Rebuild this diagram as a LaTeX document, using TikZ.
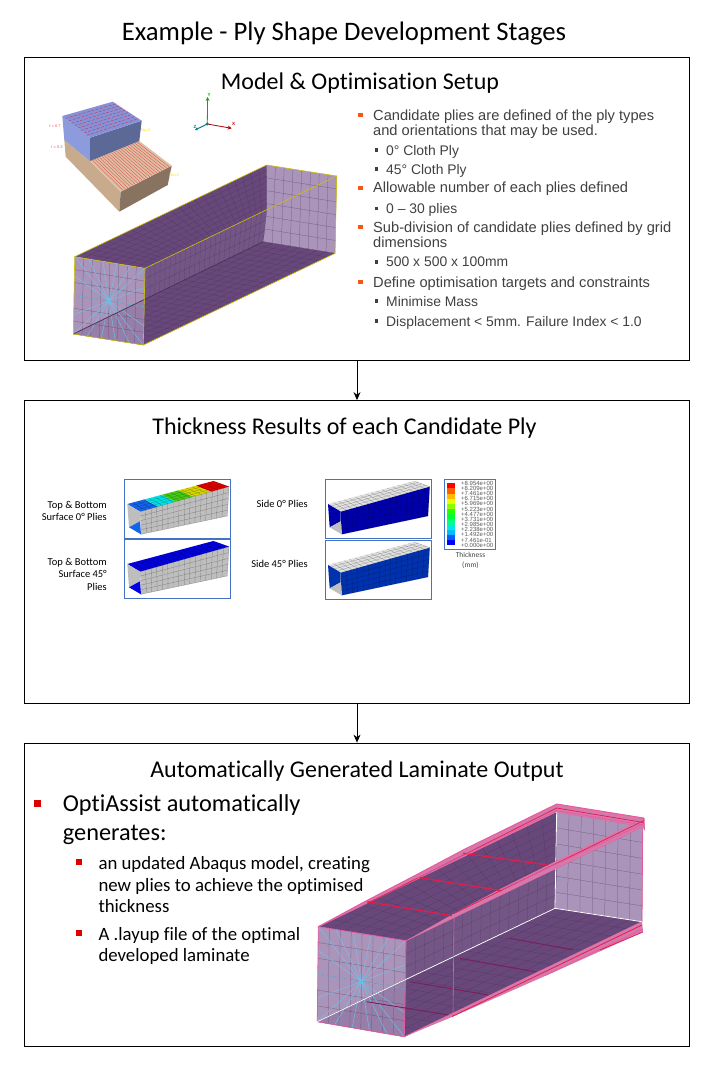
\documentclass[tikz,border=0pt]{standalone}
\usepackage{xcolor}
\usepackage{fontspec}
\setmainfont{Carlito}[Ligatures=NoCommon]
\setsansfont{Liberation Sans}
\usetikzlibrary{arrows.meta,calc,positioning}

\definecolor{ductDark}{RGB}{104,72,122}
\definecolor{ductLight}{RGB}{170,148,186}
\definecolor{ductMid}{RGB}{116,86,134}
\definecolor{ductFloor}{RGB}{150,126,168}
\definecolor{gridDark}{RGB}{70,50,85}
\definecolor{plyPink}{RGB}{232,90,160}
\definecolor{plyRed}{RGB}{225,30,75}
\definecolor{plyMaroon}{RGB}{125,30,90}
\definecolor{plyStrip}{RGB}{214,120,170}
\definecolor{frameBlue}{RGB}{68,114,196}
\definecolor{tanTop}{RGB}{222,190,165}
\definecolor{tanSide}{RGB}{200,170,140}
\definecolor{tanDark}{RGB}{135,115,95}
\definecolor{blockTop}{RGB}{135,145,215}
\definecolor{blockSide}{RGB}{140,155,220}
\definecolor{blockDark}{RGB}{92,105,150}
\definecolor{resBlue}{RGB}{20,100,235}
\definecolor{resCyan}{RGB}{0,225,230}
\definecolor{resGreen}{RGB}{70,205,20}
\definecolor{resYellow}{RGB}{215,215,0}
\definecolor{resRed}{RGB}{225,0,0}
\definecolor{resNavy}{RGB}{0,0,225}
\definecolor{resDeep}{RGB}{0,0,170}
\definecolor{resMid}{RGB}{0,50,175}
\definecolor{resGray}{RGB}{190,190,190}
\definecolor{resPale}{RGB}{225,225,225}
\newcommand{\fsz}[1]{\fontsize{#1}{#1}\selectfont}

% grid lines on a quad a-b-c-d, n across a-b and m across b-c
\newcommand{\meshface}[7]{%
  \foreach \k in {1,...,#6}
    \draw[#1] ($(#2)!{\k/#6}!(#3)$) -- ($(#5)!{\k/#6}!(#4)$);
  \foreach \k in {1,...,#7}
    \draw[#1] ($(#2)!{\k/#7}!(#5)$) -- ($(#3)!{\k/#7}!(#4)$);
}
% see-through duct from the coordinates f1..f4, b1..b4, ptop, qlow
\newcommand{\ductbody}[3]{%
  \fill[ductLight] (b1) -- (b2) -- (b3) -- (b4) -- cycle;
  \meshface{gridLine}{b1}{b2}{b3}{b4}{#2}{6}
  \fill[ductDark] (f1) -- (f2) -- (ptop) -- (b1) -- cycle;
  \meshface{gridLine}{f1}{f2}{ptop}{b1}{#2}{#3}
  \fill[ductMid] (f2) -- (ptop) -- (b4) -- (qlow) -- cycle;
  \meshface{gridLine}{f2}{ptop}{b4}{qlow}{#3}{3}
  \fill[ductDark] (f4) -- (f3) -- (b3) -- (b4) -- cycle;
  \meshface{gridLine}{f4}{f3}{b3}{b4}{#2}{#3}
  \fill[ductLight] (f1) -- (f2) -- (qlow) -- (f4) -- cycle;
  \fill[ductFloor] (f4) -- (qlow) -- (f3) -- cycle;
  \meshface{gridLine}{f1}{f2}{f3}{f4}{8}{6}
  \coordinate (fmid) at ($(f1)!.5!(f3)$);
  \foreach \k in {0,...,5} {
    \draw[spoke] (fmid) -- ($(f1)!{\k/5}!(f2)$);
    \draw[spoke] (fmid) -- ($(f4)!{\k/5}!(f3)$);
  }
  \foreach \k in {1,...,3} {
    \draw[spoke] (fmid) -- ($(f1)!{\k/4}!(f4)$);
    \draw[spoke] (fmid) -- ($(f2)!{\k/4}!(f3)$);
  }
  \fill[cyan!70!white] (fmid) circle (1.3);
  \draw[gridDark, line width=0.7pt] (f4) -- (b4);
  \draw[#1] (f1) -- (f2) -- (f3) -- (f4) -- cycle;
  \draw[#1] (f1) -- (b1) -- (b2) -- (b3) -- (f3);
  \draw[#1] (f2) -- (b2);
}
% mini result beam: frame corner, top colours, count, wall, floor
\newcommand{\minibeam}[6]{%
  \begin{scope}[shift={(#1,#2)}]
    \coordinate (m1) at (3,24.7);   \coordinate (m2) at (15.7,32.3);
    \coordinate (m3) at (104.7,7.3); \coordinate (m4) at (89,1.7);
    \coordinate (m5) at (16.7,55);  \coordinate (m6) at (103,36.7);
    \coordinate (m7) at (4.7,48);   \coordinate (m8) at (15.7,42);
    \fill[#5] (m2) -- (m3) -- (m6) -- (m5) -- cycle;
    \foreach \c [count=\i] in {#3} {
      \pgfmathsetmacro{\ta}{(\i-1)/#4}
      \pgfmathsetmacro{\tb}{\i/#4}
      \fill[\c] ($(m1)!\ta!(m4)$) -- ($(m2)!\ta!(m3)$)
        -- ($(m2)!\tb!(m3)$) -- ($(m1)!\tb!(m4)$) -- cycle;
    }
    \meshface{miniGrid}{m1}{m2}{m3}{m4}{4}{16}
    \meshface{miniGrid}{m2}{m3}{m6}{m5}{16}{5}
    \fill[#5] (m1) -- (m2) -- (m8) -- (m7) -- cycle;
    \fill[#6] (m7) -- (m8) -- (m5) -- cycle;
  \end{scope}
}

\begin{document}
\begin{tikzpicture}[
  x=1pt, y=-1pt,
  panel/.style={rectangle, draw=black, line width=0.8pt,
    minimum width=665pt, minimum height=303pt, inner sep=0pt},
  heading/.style={anchor=base, inner sep=0pt, font=\fsz{24}},
  bigtitle/.style={anchor=base, inner sep=0pt, font=\fsz{26.7}},
  setupLine/.style={anchor=base west, inner sep=0pt, font=\sffamily\fsz{14.65},
    text={rgb,255:red,64;green,64;blue,64}},
  setupSub/.style={setupLine, font=\sffamily\fsz{13.9}},
  outLine/.style={anchor=base west, inner sep=0pt},
  orangeDot/.style={rectangle, inner sep=0pt, minimum size=4.5pt,
    fill={rgb,255:red,240;green,90;blue,20}},
  grayDot/.style={rectangle, inner sep=0pt, minimum size=3.4pt,
    fill={rgb,255:red,64;green,64;blue,64}},
  redDot/.style={rectangle, inner sep=0pt, fill={rgb,255:red,220;green,0;blue,0}},
  resultLab/.style={anchor=base east, inner sep=0pt, font=\fsz{10.5},
    align=right},
  resultFrame/.style={rectangle, draw=frameBlue, line width=0.8pt, fill=white,
    minimum width=106pt, minimum height=58.4pt, inner sep=0pt, anchor=north west},
  legendFrame/.style={rectangle, draw=frameBlue, line width=0.8pt, fill=white,
    minimum width=51pt, minimum height=69.4pt, inner sep=0pt, anchor=north west},
  legendTxt/.style={anchor=west, inner sep=0pt, font=\sffamily\fsz{6},
    text={rgb,255:red,90;green,90;blue,90}},
  gridLine/.style={gridDark, line width=0.25pt, opacity=0.6},
  miniGrid/.style={black, line width=0.2pt, opacity=0.4},
  spoke/.style={cyan!60!white, line width=0.35pt},
  parr/.style={-{Stealth[length=8pt,width=7pt]}, line width=0.7pt, color=black},
]
  \useasboundingbox (0,0) rectangle (720,1088);

  %% ── Title and panels ────────────────────────────────────────
  \node[bigtitle] (title) at (344,40) {Example - Ply Shape Development Stages};
  \node[panel] (setup) at (356.5,208.5) {};
  \node[panel] (thick) at (356.5,552) {};
  \node[panel] (laminate) at (356.5,894.5) {};
  \node[heading] (setupHead) at (360,89) {Model \& Optimisation Setup};
  \node[heading] (thickHead) at (344.5,434) {Thickness Results of each Candidate Ply};
  \node[heading] (lamHead) at (357,777) {Automatically Generated Laminate Output};

  %% ── Panel arrows ────────────────────────────────────────────
  \foreach \f/\t in {setup/thick, thick/laminate}
    \draw[parr] ([xshift=0.5pt]\f.south) -- ([xshift=0.5pt]\t.north);

  %% ── Ply blocks ──────────────────────────────────────────────
  \fill[tanSide] (64.3,140) -- (90,161) -- (120.7,191.7) -- (119.3,211.7) -- (65.7,156.7) -- cycle;
  \fill[tanDark] (120.7,191.7) -- (171.7,165.7) -- (167.7,185) -- (119.3,211.7) -- cycle;
  \fill[tanTop] (90,161) -- (139.3,141) -- (171.7,165.7) -- (120.7,191.7) -- cycle;
  \coordinate (ta) at (90,161);   \coordinate (tb) at (139.3,141);
  \coordinate (tc) at (171.7,165.7); \coordinate (td) at (120.7,191.7);
  \foreach \k in {1,...,20}
    \draw[red!85!black, opacity=0.55, line width=0.35pt] ($(ta)!{\k/21}!(tb)$) -- ($(td)!{\k/21}!(tc)$);
  \fill[blockSide] (62.3,116) -- (90,137.7) -- (90,161) -- (64.3,140) -- cycle;
  \fill[blockDark] (90,137.7) -- (141.7,120.7) -- (139.3,141) -- (90,161) -- cycle;
  \fill[blockTop] (62.3,116) -- (112.7,101.7) -- (141.7,120.7) -- (90,137.7) -- cycle;
  \coordinate (ua) at (62.3,116);  \coordinate (ub) at (112.7,101.7);
  \coordinate (uc) at (141.7,120.7); \coordinate (ud) at (90,137.7);
  \foreach \k in {1,...,8}
    \draw[red!90!black, dash pattern=on 3pt off 1.5pt, opacity=0.55, line width=0.45pt]
      ($(ua)!{\k/9}!(ud)$) -- ($(ub)!{\k/9}!(uc)$);
  \node[inner sep=0pt, font=\sffamily\fsz{4}, text=red!70!white] (tHigh) at (55,126.5) {t = 0.7};
  \node[inner sep=0pt, font=\sffamily\fsz{4}, text=red!70!white] (tLow) at (57,147) {t = 0.3};
  \node[inner sep=0pt, font=\sffamily\fsz{4}, text=yellow!80!orange] (nHigh) at (145.5,130.5) {Ny=2};
  \node[inner sep=0pt, font=\sffamily\fsz{4}, text=yellow!80!orange] (nLow) at (174,174.7) {Nx=2};

  %% ── Axis triad ──────────────────────────────────────────────
  \coordinate (triad) at (207.3,124);
  \node[inner sep=0pt, font=\sffamily\bfseries\fsz{4.5}, text=green!70!black] (axY) at (209,94.5) {Y};
  \node[inner sep=0pt, font=\sffamily\bfseries\fsz{4.5}, text=red!80!black] (axX) at (233.5,123.5) {X};
  \node[inner sep=0pt, font=\sffamily\bfseries\fsz{4.5}, text=teal] (axZ) at (195,127) {Z};
  \draw[-{Stealth[length=4pt,width=4pt]}, green!70!black, line width=0.8pt] (triad) -- (207.6,97);
  \draw[-{Stealth[length=4pt,width=4pt]}, red!70!black, line width=0.8pt] (triad) -- (231.7,128.3);
  \draw[-{Stealth[length=3pt,width=3pt]}, teal, line width=1pt] (triad) -- (195,130);
  \fill[teal] (triad) circle (1.6);

  %% ── Setup model ─────────────────────────────────────────────
  \coordinate (f1) at (74.7,256.7);  \coordinate (f2) at (145,268.3);
  \coordinate (f3) at (143.3,345);   \coordinate (f4) at (73.3,334);
  \coordinate (b1) at (266.7,165);   \coordinate (b2) at (336.7,176);
  \coordinate (b3) at (335,253.3);   \coordinate (b4) at (263.3,241.7);
  \coordinate (ptop) at ($(f2)!.635!(b2)$);
  \coordinate (qlow) at ($(b4)!.623!(f4)$);
  \ductbody{yellow!55!olive, line width=0.6pt}{8}{24}

  %% ── Setup bullets ───────────────────────────────────────────
  \foreach \y/\t [count=\n] in {
    120/{Candidate plies are defined of the ply types},
    135/{and orientations that may be used.},
    192.7/{Allowable number of each plies defined},
    232.3/{Sub-division of candidate plies defined by grid},
    247.7/{dimensions},
    287.3/{Define optimisation targets and constraints}}
    \node[setupLine] (line\n) at (373,\y) {\t};
  \foreach \y/\t [count=\n] in {
    155/{0° Cloth Ply},
    174.3/{45° Cloth Ply},
    213.3/{0 – 30 plies},
    266.7/{500 x 500 x 100mm},
    306/{Minimise Mass},
    326/{Displacement < 5mm. Failure Index < 1.0}}
    \node[setupSub] (subline\n) at (386,\y) {\t};
  \foreach \y [count=\n] in {115,188,227,282}
    \node[orangeDot] (oDot\n) at (360.5,\y) {};
  \foreach \y [count=\n] in {150,169,208.5,262,301,321}
    \node[grayDot] (gDot\n) at (376.5,\y) {};

  %% ── Result frames ───────────────────────────────────────────
  \node[resultFrame] (frameA) at (124.3,479.3) {};
  \node[resultFrame] (frameB) at (124.3,539.3) {};
  \node[resultFrame] (frameC) at (325,479.3) {};
  \node[resultFrame] (frameD) at (325,540.3) {};
  \minibeam{124.3}{479.3}{resBlue,resCyan,resGreen,resYellow,resRed}{5}{resGray}{resBlue}
  \minibeam{124.3}{539.3}{resNavy}{1}{resGray}{resNavy}
  \minibeam{325}{479.3}{resPale}{1}{resDeep}{resGray}
  \minibeam{325}{540.3}{resPale}{1}{resMid}{resGray}

  \node[resultLab] (labA1) at (107,508) {Top \& Bottom};
  \node[resultLab] (labA2) at (107,520) {Surface 0° Plies};
  \node[resultLab] (labB1) at (107,565) {Top \& Bottom};
  \node[resultLab] (labB2) at (107,577) {Surface 45°};
  \node[resultLab] (labB3) at (107,590) {Plies};
  \node[resultLab] (labC) at (308,507) {Side 0° Plies};
  \node[resultLab] (labD) at (308,567) {Side 45° Plies};

  %% ── Thickness legend ────────────────────────────────────────
  \node[legendFrame] (legend) at (444,479.3) {};
  \foreach \r/\g/\b [count=\n] in {
    255/0/0, 255/93/0, 255/185/0, 232/255/0, 139/255/0, 46/255/0,
    0/255/46, 0/255/139, 0/232/232, 0/185/255, 0/93/255, 0/0/255}
    \fill[fill={rgb,255:red,\r;green,\g;blue,\b}]
      (447,{483.3+(\n-1)*5.15}) rectangle (455,{483.3+\n*5.15});
  \foreach \v [count=\n] in {+8.954e+00,+8.209e+00,+7.461e+00,+6.715e+00,+5.969e+00,
    +5.223e+00,+4.477e+00,+3.731e+00,+2.985e+00,+2.238e+00,+1.492e+00,+7.461e-01,+0.000e+00}
    \node[legendTxt] (legTxt\n) at (461,{483.3+(\n-1)*5.15}) {\v};
  \node[inner sep=0pt, align=center, font=\fsz{7.5}, text={rgb,255:red,70;green,70;blue,70}]
    (legTitle) at (470.5,560) {Thickness\\[2.5pt](mm)};

  %% ── Laminate model ──────────────────────────────────────────
  \coordinate (f1) at (318.3,926.7); \coordinate (f2) at (406,940.7);
  \coordinate (f3) at (404.3,1036.7); \coordinate (f4) at (317.3,1021.7);
  \coordinate (b1) at (556.7,811.7); \coordinate (b2) at (642.7,826.7);
  \coordinate (b3) at (642,921.7);   \coordinate (b4) at (555,908.3);
  \coordinate (ptop) at ($(f2)!.6367!(b2)$);
  \coordinate (qlow) at ($(b4)!.627!(f4)$);
  \ductbody{plyPink, line width=0.8pt}{7}{16}
  \draw[white, line width=0.8pt] (f4) -- (qlow) -- (b4) -- (b3) (b4) -- (b1);

  %% ── Developed plies ─────────────────────────────────────────
  \fill[plyStrip] (f1) -- (365,901.5) -- (415,875.5) -- (463,850) -- (556.7,804)
    -- (644.5,818) -- (644.5,830) -- (b2) -- (b1) -- cycle;
  \fill[plyStrip] (f2) -- (454,913.5) -- (500,889) -- (550,864) -- (644.5,818) -- (b2) -- cycle;
  \fill[plyStrip] (f3) -- (452,1017) -- (545,976) -- (643,932) -- (b3) -- cycle;
  \foreach \ax/\ay/\bx/\by in {
    367.3/901.7/451.7/915.7, 420/877.7/501.7/890.7, 463.3/853.3/548.3/865}
    \draw[plyRed, line width=1.3pt] (\ax,\ay) -- (\bx,\by);
  \foreach \ax/\ay/\bx/\by in {
    366.7/1001.7/448.3/1015, 410/981.7/488.3/995, 460/958.3/535/971.7, 510/938.3/573.3/950}
    \draw[plyMaroon, line width=0.9pt] (\ax,\ay) -- (\bx,\by);
  \draw[plyPink, line width=1pt] (318.3,926.7) -- (365,901.5) -- (415,875.5) -- (463,850) -- (556.7,804) -- (643.5,818) -- (644.5,830);
  \draw[plyRed, line width=0.7pt] (367,903.5) -- (556.7,808) -- (643.5,822.5);
  \draw[plyPink, line width=0.7pt] (417,878) -- (556.7,810.5) -- (643,825);
  \draw[plyRed, line width=0.7pt] (454,913.5) -- (644,820.5);
  \draw[plyPink, line width=0.7pt] (500,890) -- (644,823.5);
  \draw[plyPink, line width=0.6pt] (454,916.7) -- (453,1016.7);
  \draw[plyRed, line width=0.8pt] (452,1016.5) -- (642,925);
  \draw[plyPink, line width=0.8pt] (545,975.5) -- (643,929);
  \draw[plyRed, line width=0.7pt] (600,950) -- (643,932);

  %% ── Laminate bullets ────────────────────────────────────────
  \node[outLine, font=\fsz{24.3}] (genA) at (62.7,811.7) {OptiAssist automatically};
  \node[outLine, font=\fsz{24.3}] (genB) at (62.7,840) {generates:};
  \foreach \y/\t [count=\n] in {
    869.3/{an updated Abaqus model, creating},
    891/{new plies to achieve the optimised},
    912.7/{thickness},
    940/{A .layup file of the optimal},
    961.7/{developed laminate}}
    \node[outLine, font=\fsz{18.8}] (sub\n) at (98.3,\y) {\t};
  \node[redDot, minimum size=6.7pt] (rDot1) at (37.4,803.4) {};
  \node[redDot, minimum size=5.7pt] (rDot2) at (78.8,862) {};
  \node[redDot, minimum size=5.7pt] (rDot3) at (78.8,933) {};

\end{tikzpicture}
\end{document}
